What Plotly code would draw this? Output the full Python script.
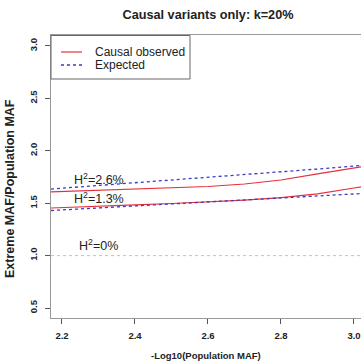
import plotly.graph_objects as go

# Data
x_vals = [2.17, 2.3, 2.4, 2.5, 2.6, 2.7, 2.8, 2.9, 3.0, 3.02]
obs_26 = [1.607, 1.621, 1.631, 1.645, 1.659, 1.683, 1.721, 1.779, 1.836, 1.846]
exp_26 = [1.635, 1.669, 1.693, 1.721, 1.745, 1.769, 1.798, 1.826, 1.855, 1.860]
obs_13 = [1.454, 1.468, 1.483, 1.497, 1.511, 1.530, 1.554, 1.588, 1.645, 1.656]
exp_13 = [1.430, 1.454, 1.473, 1.492, 1.507, 1.526, 1.545, 1.569, 1.588, 1.592]
obs_0 = [1.0] * len(x_vals)
exp_0 = [1.0] * len(x_vals)

x_ticks = [2.2, 2.4, 2.6, 2.8, 3.0]
y_ticks = [0.5, 1.0, 1.5, 2.0, 2.5, 3.0]
labels = ["H<sup>2</sup>=2.6%", "H<sup>2</sup>=1.3%", "H<sup>2</sup>=0%"]
label_x = [2.228, 2.228, 2.242]
label_y = [1.731, 1.550, 1.101]
legend_names = ["Causal observed", "Expected"]

FONT = "Liberation Sans, Arial, Helvetica, sans-serif"
RED = "#e8303a"
BLUE = "#3b3bc8"

# plot-area geometry in pixels (for decorations placed in paper coordinates)
L, R, T, B = 51, 361, 35, 318


def px(xp):
    return (xp - L) / (R - L)


def py(yp):
    return (B - yp) / (B - T)


fig = go.Figure()

fig.add_trace(go.Scatter(x=x_vals, y=obs_0, mode="lines", showlegend=False,
                         line=dict(color="#e0d4d8", width=1, dash="dot")))
fig.add_trace(go.Scatter(x=x_vals, y=exp_0, mode="lines", showlegend=False,
                         line=dict(color="#c4c4d2", width=1, dash="dot")))
fig.add_trace(go.Scatter(x=x_vals, y=obs_26, mode="lines", name=legend_names[0],
                         showlegend=False, line=dict(color=RED, width=1.2)))
fig.add_trace(go.Scatter(x=x_vals, y=exp_26, mode="lines", name=legend_names[1],
                         showlegend=False, line=dict(color=BLUE, width=1.3, dash="dot")))
fig.add_trace(go.Scatter(x=x_vals, y=obs_13, mode="lines", showlegend=False,
                         line=dict(color=RED, width=1.2)))
fig.add_trace(go.Scatter(x=x_vals, y=exp_13, mode="lines", showlegend=False,
                         line=dict(color=BLUE, width=1.3, dash="dot")))

annotations = []
for t, xx, yy in zip(labels, label_x, label_y):
    annotations.append(dict(x=xx, y=yy, xref="x", yref="y", text=t, showarrow=False,
                            xanchor="left", yanchor="middle",
                            font=dict(family=FONT, size=12.5, color="#222")))

annotations.append(dict(x=0.5, y=0, xref="paper", yref="paper", yshift=-37,
                        text="<b>-Log10(Population MAF)</b>", showarrow=False,
                        xanchor="center", yanchor="middle",
                        font=dict(family=FONT, size=9.5, color="#222")))
annotations.append(dict(x=px(10), y=py(189), xref="paper", yref="paper",
                        showarrow=False, xanchor="center", yanchor="middle",
                        text="<b>Extreme MAF/Population MAF</b>", textangle=-90,
                        font=dict(family=FONT, size=12.5, color="#222")))

# legend drawn as a box with line samples and text
shapes = [dict(type="rect", xref="paper", yref="paper", x0=px(51), x1=px(190),
               y0=py(79), y1=py(35.5), line=dict(color="#666", width=1),
               fillcolor="white", layer="above")]
leg_styles = [dict(color=RED, width=1.2), dict(color=BLUE, width=1.3, dash="dot")]
leg_rows = [52, 65]
for name, st, row in zip(legend_names, leg_styles, leg_rows):
    shapes.append(dict(type="line", xref="paper", yref="paper", x0=px(61), x1=px(82),
                       y0=py(row), y1=py(row), line=st, layer="above"))
    annotations.append(dict(x=px(93), y=py(row), xref="paper", yref="paper",
                            text=name, showarrow=False, xanchor="left", yanchor="middle",
                            font=dict(family=FONT, size=12, color="#222")))

fig.update_layout(
    width=361, height=361,
    margin=dict(l=L, r=361 - R, t=T, b=361 - B),
    paper_bgcolor="white", plot_bgcolor="white",
    showlegend=False,
    title=dict(text="<b>Causal variants only: k=20%</b>", x=208 / 361, xanchor="center",
               y=1 - 15 / 361, yanchor="middle",
               font=dict(family=FONT, size=12.7, color="#222")),
    font=dict(family=FONT, color="#222"),
    annotations=annotations,
    shapes=shapes,
    xaxis=dict(range=[2.1699, 3.0192], tickvals=x_ticks,
               ticktext=[f"<b>{v:.1f}</b>" for v in x_ticks],
               ticks="outside", ticklen=5, tickcolor="#555",
               showline=True, linecolor="#999", linewidth=1, mirror=True,
               showgrid=False, zeroline=False, ticklabelstandoff=4,
               ticklabeloverflow="allow",
               tickfont=dict(family=FONT, size=9.5, color="#222")),
    yaxis=dict(range=[0.4046, 3.1046], tickvals=y_ticks,
               ticktext=[f"<b>{v:.1f}</b>" for v in y_ticks],
               ticks="outside", ticklen=5, tickcolor="#555", tickangle=-90,
               showline=True, linecolor="#999", linewidth=1,
               showgrid=False, zeroline=False, ticklabelstandoff=4,
               tickfont=dict(family=FONT, size=9.5, color="#222")),
)

fig.write_html("out.html", config={"displayModeBar": False},
               post_script="document.body.style.margin='0';document.body.style.overflow='hidden';")
